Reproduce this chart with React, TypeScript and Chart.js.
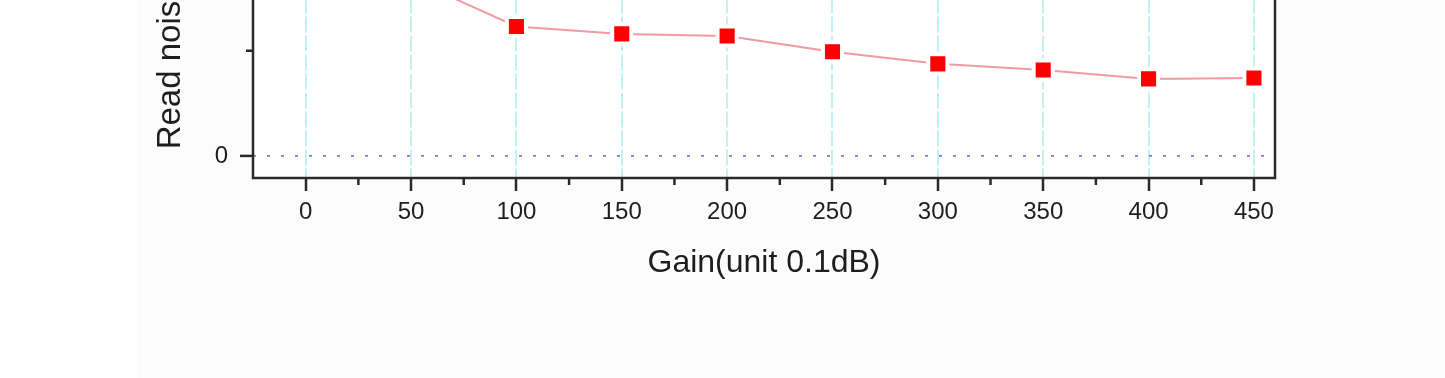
import React, { useEffect, useRef } from 'react';
import { Chart, registerables } from 'chart.js';

Chart.register(...registerables);

const GAIN = [0, 50, 100, 150, 200, 250, 300, 350, 400, 450];
const READ_NOISE = [2.0, 1.68, 1.23, 1.16, 1.14, 0.99, 0.875, 0.817, 0.732, 0.74];
const X_TICKS = [0, 50, 100, 150, 200, 250, 300, 350, 400, 450];
const X_MINOR_TICKS = [25, 75, 125, 175, 225, 275, 325, 375, 425];
const Y_TICKS = [0, 2];
const Y_MINOR_TICKS = [1];
const X_TITLE = 'Gain(unit 0.1dB)';
const Y_TITLE = 'Read noise(e-)';

const FONT = "'Liberation Sans', Arial, sans-serif";
const INK = '#1e1e1e';

const framePlugin = {
  id: 'frame',
  beforeDraw(chart: any) {
    const { ctx, chartArea: a } = chart;
    ctx.save();
    ctx.fillStyle = '#ffffff';
    ctx.fillRect(a.left, a.top, a.right - a.left, a.bottom - a.top);
    ctx.restore();
  },
  afterDraw(chart: any) {
    const { ctx, chartArea: a, scales } = chart;
    ctx.save();
    ctx.strokeStyle = '#2a2a2a';
    ctx.lineWidth = 2.5;
    ctx.beginPath();
    X_MINOR_TICKS.forEach((v) => {
      const px = scales.x.getPixelForValue(v);
      ctx.moveTo(px, a.bottom);
      ctx.lineTo(px, a.bottom + 7);
    });
    Y_MINOR_TICKS.forEach((v) => {
      const py = scales.y.getPixelForValue(v);
      ctx.moveTo(a.left, py);
      ctx.lineTo(a.left - 7, py);
    });
    ctx.stroke();
    ctx.strokeRect(a.left, a.top, a.right - a.left, a.bottom - a.top);
    ctx.restore();
  },
};

export default function App() {
  const canvasRef = useRef<HTMLCanvasElement | null>(null);

  useEffect(() => {
    document.body.style.margin = '0';
    const canvas = canvasRef.current;
    if (!canvas) return;
    const chart = new Chart(canvas, {
      type: 'line',
      data: {
        datasets: [
          {
            data: GAIN.map((g, i) => ({ x: g, y: READ_NOISE[i] })),
            borderColor: '#f29aa4',
            borderWidth: 2,
            tension: 0,
            pointStyle: 'rect',
            pointRadius: 13.5,
            pointBackgroundColor: '#ff0000',
            pointBorderColor: '#ffffff',
            pointBorderWidth: 4,
          },
        ],
      },
      options: {
        animation: false,
        responsive: true,
        maintainAspectRatio: false,
        events: [],
        layout: { padding: { left: 151.4, right: 170, top: 32.4, bottom: 8 } },
        plugins: { legend: { display: false }, tooltip: { enabled: false } },
        scales: {
          x: {
            type: 'linear',
            min: -25,
            max: 460,
            afterBuildTicks: (s: any) => {
              s.ticks = X_TICKS.map((v) => ({ value: v }));
            },
            afterFit: (s: any) => {
              s.height = 104;
            },
            grid: {
              color: '#c2f1f1',
              lineWidth: 2,
              drawTicks: true,
              tickLength: 13,
              tickWidth: 2.5,
              tickColor: '#2a2a2a',
            },
            border: { display: false, dash: [16, 3] },
            ticks: {
              autoSkip: false,
              maxRotation: 0,
              padding: 7,
              color: INK,
              font: { family: FONT, size: 24 },
            },
            title: {
              display: true,
              text: X_TITLE,
              color: INK,
              padding: 0,
              font: { family: FONT, size: 32 },
            },
          },
          y: {
            type: 'linear',
            min: -0.21,
            max: 2.41,
            afterBuildTicks: (s: any) => {
              s.ticks = Y_TICKS.map((v) => ({ value: v }));
            },
            afterFit: (s: any) => {
              s.width = 101.6;
            },
            grid: {
              color: '#7c7cd0',
              lineWidth: 1.8,
              drawTicks: true,
              tickLength: 13,
              tickWidth: 2.5,
              tickColor: '#2a2a2a',
            },
            border: { display: false, dash: [3, 11] },
            ticks: {
              padding: 12,
              color: INK,
              font: { family: FONT, size: 24 },
            },
            title: {
              display: true,
              text: Y_TITLE,
              color: INK,
              padding: 0,
              font: { family: FONT, size: 33 },
            },
          },
        },
      },
      plugins: [framePlugin],
    });
    return () => chart.destroy();
  }, []);

  return (
    <div
      style={{
        position: 'relative',
        width: 1445,
        height: 378,
        overflow: 'hidden',
        background: 'linear-gradient(to right, #ffffff 137px, #fcfcfc 137px)',
      }}
    >
      <div style={{ position: 'absolute', left: 0, top: -130, width: 1445, height: 420 }}>
        <canvas ref={canvasRef} />
      </div>
    </div>
  );
}
